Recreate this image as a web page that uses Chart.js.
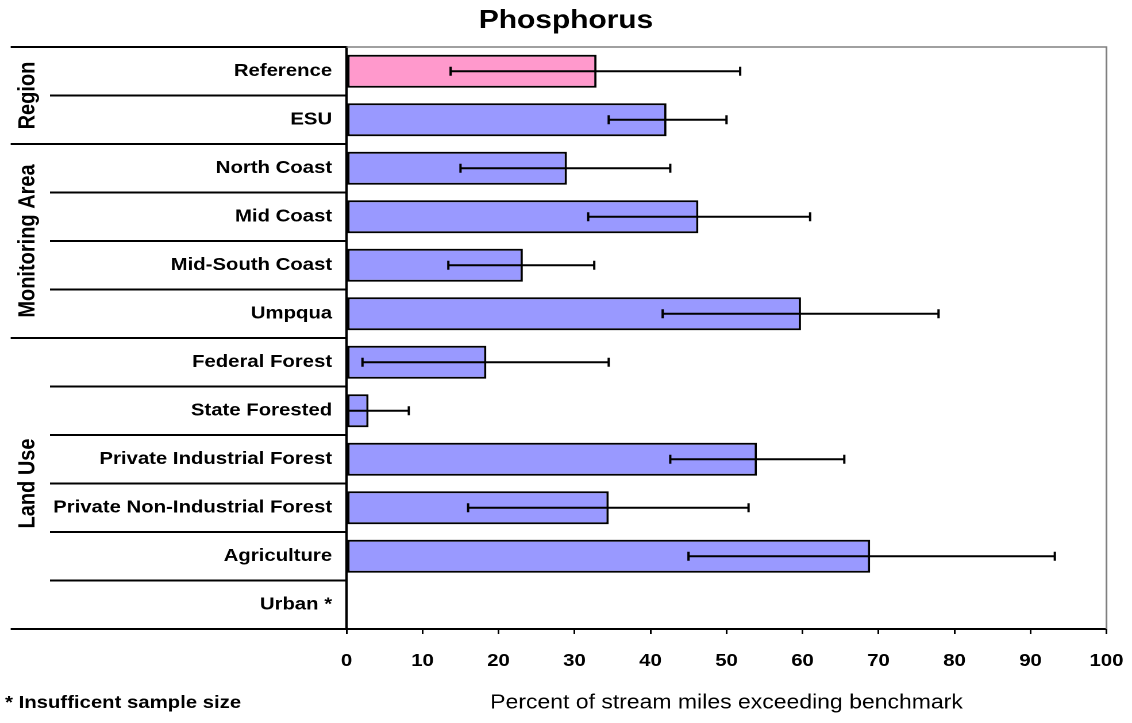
<!DOCTYPE html>
<html>
<head>
<meta charset="utf-8">
<script src="https://cdn.jsdelivr.net/npm/chart.js@4/dist/chart.umd.min.js"></script>
<style>
  html, body { margin: 0; padding: 0; background: #fff; overflow: hidden; }
  /* the source picture is stretched sideways, so the whole chart is too */
  #chart { transform: scaleX(1.149239); transform-origin: 0 0; }
</style>
</head>
<body>
<canvas id="chart" width="985" height="723"></canvas>
<script>
const categories = [
  "Reference", "ESU",
  "North Coast", "Mid Coast", "Mid-South Coast", "Umpqua",
  "Federal Forest", "State Forested", "Private Industrial Forest",
  "Private Non-Industrial Forest", "Agriculture", "Urban *"
];
const percentExceeding = [32.9, 42.1, 29.0, 46.3, 23.2, 59.8, 18.4, 2.9, 54.0, 34.5, 68.9, null];
const errLow  = [13.7, 34.5, 15.0, 31.8, 13.4, 41.6, 2.1, 0, 42.6, 16.0, 45.0, null];
const errHigh = [51.8, 50.0, 42.6, 61.0, 32.6, 77.9, 34.5, 8.2, 65.5, 52.9, 93.2, null];
const groupNames = ["Region", "Monitoring Area", "Land Use"];
const groupSizes = [2, 4, 6];
const xTicks = [0, 10, 20, 30, 40, 50, 60, 70, 80, 90, 100];

const FONT = "'Liberation Sans', Arial, sans-serif";
const labelFont = { family: FONT, size: 17.7, weight: "bold" };

const errorBars = {
  id: "errorBars",
  afterDatasetsDraw(chart) {
    const { ctx, scales: { x, y } } = chart;
    ctx.save();
    ctx.strokeStyle = "#000";
    ctx.lineWidth = 2;
    errLow.forEach((lo, i) => {
      if (lo == null) return;
      const yy = y.getPixelForValue(i);
      const x1 = x.getPixelForValue(lo);
      const x2 = x.getPixelForValue(errHigh[i]);
      ctx.beginPath();
      ctx.moveTo(x1, yy); ctx.lineTo(x2, yy);
      ctx.moveTo(x1, yy - 4.5); ctx.lineTo(x1, yy + 4.5);
      ctx.moveTo(x2, yy - 4.5); ctx.lineTo(x2, yy + 4.5);
      ctx.stroke();
    });
    ctx.restore();
  }
};

const labelTable = {
  id: "labelTable",
  afterDraw(chart) {
    const { ctx, chartArea: a, scales: { y } } = chart;
    const half = (y.getPixelForValue(1) - y.getPixelForValue(0)) / 2;
    const rowTop = i => y.getPixelForValue(i) - half;

    ctx.save();
    // gray frame on top and right of plot
    ctx.strokeStyle = "#808080";
    ctx.lineWidth = 1.5;
    ctx.beginPath();
    ctx.moveTo(a.left, a.top); ctx.lineTo(a.right, a.top); ctx.lineTo(a.right, a.bottom);
    ctx.stroke();

    // row separators, longer ones between groups
    const full = new Set([0]);
    let n = 0;
    groupSizes.forEach(s => { n += s; full.add(n); });
    ctx.strokeStyle = "#000";
    ctx.lineWidth = 2;
    for (let i = 0; i <= categories.length; i++) {
      const yy = rowTop(i);
      ctx.beginPath();
      ctx.moveTo(full.has(i) ? 9.3 : 43.5, yy);
      ctx.lineTo(a.left, yy);
      ctx.stroke();
    }

    // rotated group names
    ctx.fillStyle = "#000";
    ctx.font = "bold 20px " + FONT;
    ctx.textAlign = "center";
    ctx.textBaseline = "middle";
    let first = 0;
    groupNames.forEach((g, k) => {
      const cy = (rowTop(first) + rowTop(first + groupSizes[k])) / 2;
      ctx.save();
      ctx.translate(24.4, cy);
      ctx.rotate(-Math.PI / 2);
      ctx.fillText(g, 0, 0);
      ctx.restore();
      first += groupSizes[k];
    });

    ctx.font = "bold 17.7px " + FONT;
    ctx.textAlign = "left";
    ctx.fillText("* Insufficent sample size", 4.4, 703);
    ctx.restore();
  }
};

new Chart(document.getElementById("chart"), {
  type: "bar",
  data: {
    labels: categories,
    datasets: [{
      data: percentExceeding,
      backgroundColor: ctx => ctx.dataIndex === 0 ? "#FF99CC" : "#9999FF",
      borderColor: "#000",
      borderWidth: 2,
      borderSkipped: false,
      barPercentage: 0.68,
      categoryPercentage: 1
    }]
  },
  options: {
    indexAxis: "y",
    responsive: false,
    devicePixelRatio: 2,
    animation: false,
    layout: { padding: 0 },
    plugins: {
      legend: { display: false },
      tooltip: { enabled: false },
      title: {
        display: true,
        text: "Phosphorus",
        color: "#000",
        font: { family: FONT, size: 26, weight: "bold" },
        padding: { top: 5.4, bottom: 10.4 }
      }
    },
    scales: {
      x: {
        min: 0,
        max: 100,
        afterBuildTicks: scale => { scale.ticks = xTicks.map(v => ({ value: v })); },
        afterFit: scale => { scale.height = 94; scale.paddingRight = 22.2; },
        ticks: { color: "#000", font: labelFont, padding: 16.7, maxRotation: 0 },
        grid: { drawOnChartArea: false, drawTicks: true, tickLength: 5, color: "#000", lineWidth: 1.5 },
        border: { color: "#000", width: 2 },
        title: {
          display: true,
          text: "Percent of stream miles exceeding benchmark",
          color: "#000",
          font: { family: FONT, size: 20 },
          padding: { top: 0, bottom: 8 }
        }
      },
      y: {
        afterFit: scale => { scale.width = 301.5; },
        ticks: { color: "#000", font: labelFont, padding: 6.5, autoSkip: false },
        grid: { drawOnChartArea: false, drawTicks: true, tickLength: 6, color: "#000", lineWidth: 2 },
        border: { color: "#000", width: 2 }
      }
    }
  },
  plugins: [errorBars, labelTable]
});
</script>
</body>
</html>
